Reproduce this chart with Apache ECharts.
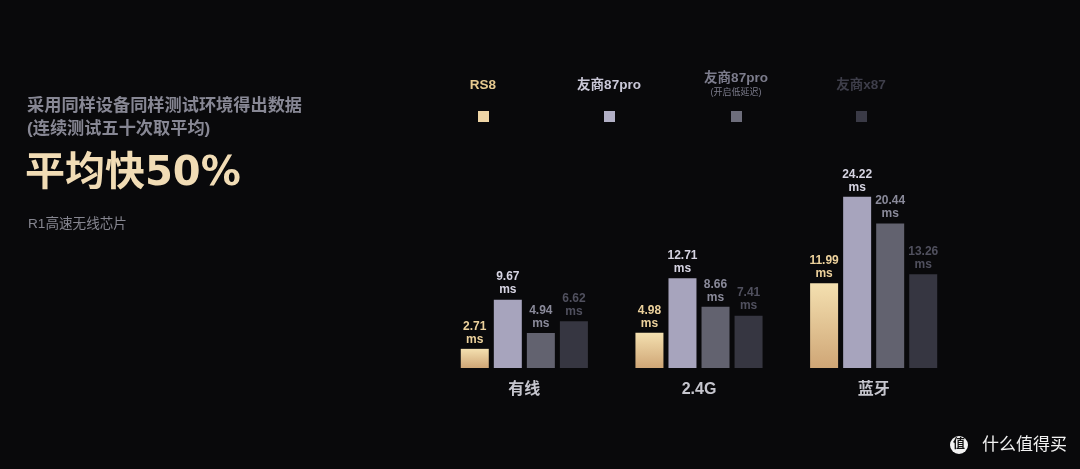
<!DOCTYPE html>
<html><head><meta charset="utf-8">
<script src="https://cdn.jsdelivr.net/npm/echarts@6/dist/echarts.min.js"></script>
<style>html,body{margin:0;padding:0;background:#09090b;}#c{width:1080px;height:469px;}</style>
</head><body><div id="c"></div>
<script>
const categories = ['有线', '2.4G', '蓝牙'];
const seriesNames = ['RS8', '友商87pro', '友商87pro ', '友商x87'];
const legendNotes = ['', '', '(开启低延迟)', ''];
const rs8 = [2.71, 4.98, 11.99];
const pro87 = [9.67, 12.71, 24.22];
const pro87Low = [4.94, 8.66, 20.44];
const x87 = [6.62, 7.41, 13.26];
const headline = ['采用同样设备同样测试环境得出数据', '(连续测试五十次取平均)'];
const bigText = '平均快50%';
const chipText = 'R1高速无线芯片';

const FONT = '"Liberation Sans", "Noto Sans CJK SC", sans-serif';
const BIGFONT = '"DejaVu Sans", "Noto Sans CJK SC", sans-serif';
const barColors = [
  new echarts.graphic.LinearGradient(0, 0, 0, 1, [{offset: 0, color: '#f4e0b0'}, {offset: 1, color: '#cfa676'}]),
  '#a7a4bd', '#62626f', '#363641'
];
const labelColors = ['#ecd19c', '#d6d4e2', '#8a8a9a', '#50505e'];
const legendTextColors = ['#e6c98f', '#cac8d8', '#7c7c8c', '#3e3e4a'];
const legendIconColors = ['#efd5a6', '#b2b0c6', '#6e6e7c', '#3a3a46'];
const legendX = [483, 609, 736, 861];
const dataSets = [rs8, pro87, pro87Low, x87];

const chart = echarts.init(document.getElementById('c'), null, {renderer: 'canvas'});

const series = dataSets.map((d, i) => ({
  name: seriesNames[i],
  type: 'bar',
  data: d,
  barWidth: 28,
  barGap: '18%',
  itemStyle: {color: barColors[i]},
  label: {
    show: true, position: 'top', distance: 3,
    formatter: p => p.value.toFixed(2) + '\nms',
    color: labelColors[i], fontFamily: FONT, fontWeight: 'bold', fontSize: 12, lineHeight: 13
  }
}));

const legends = seriesNames.map((n, i) => ({
  data: [{name: n, itemStyle: {color: legendIconColors[i]}}],
  left: legendX[i] - 5, top: 111, padding: 0,
  itemWidth: 11, itemHeight: 11, icon: 'rect',
  formatter: () => '', selectedMode: false
}));

const textGraphics = [];
seriesNames.forEach((n, i) => {
  const hasNote = legendNotes[i] !== '';
  textGraphics.push({type: 'text', x: legendX[i], y: hasNote ? 72 : 79,
    style: {text: n.trim(), fill: legendTextColors[i], font: 'bold 13.5px ' + FONT, textAlign: 'center'}});
  if (hasNote) textGraphics.push({type: 'text', x: legendX[i], y: 88,
    style: {text: legendNotes[i], fill: legendTextColors[i], font: '9px ' + FONT, textAlign: 'center'}});
});
textGraphics.push(
  {type: 'text', x: 27, y: 98, style: {text: headline[0], fill: '#878794', font: 'bold 17.2px ' + FONT}},
  {type: 'text', x: 27, y: 121, style: {text: headline[1], fill: '#878794', font: 'bold 17.2px ' + FONT}},
  {type: 'text', x: 25, y: 155, style: {text: bigText, fill: '#f1dcb5', font: 'bold 40px ' + BIGFONT}},
  {type: 'text', x: 28, y: 217, style: {text: chipText, fill: '#868690', font: '13.6px ' + FONT}},
  {type: 'circle', shape: {cx: 959, cy: 445, r: 9}, style: {fill: '#f2f2f2'}},
  {type: 'text', x: 959, y: 445, style: {text: '值', fill: '#111', font: 'bold 12px ' + FONT, textAlign: 'center', textVerticalAlign: 'middle'}},
  {type: 'text', x: 982, y: 445, style: {text: '什么值得买', fill: '#f2f2f2', font: '17px ' + FONT, textVerticalAlign: 'middle'}}
);

chart.setOption({
  backgroundColor: '#09090b',
  animation: false,
  grid: {left: 437, right: 119, top: 156, bottom: 101},
  legend: legends,
  xAxis: {
    type: 'category', data: categories,
    axisLine: {show: false}, axisTick: {show: false},
    axisLabel: {color: '#c6c6ce', fontFamily: FONT, fontSize: 16, fontWeight: 'bold', margin: 14}
  },
  yAxis: {type: 'value', min: 0, max: 30, show: false, splitLine: {show: false}},
  series: series,
  graphic: textGraphics
});
</script></body></html>
